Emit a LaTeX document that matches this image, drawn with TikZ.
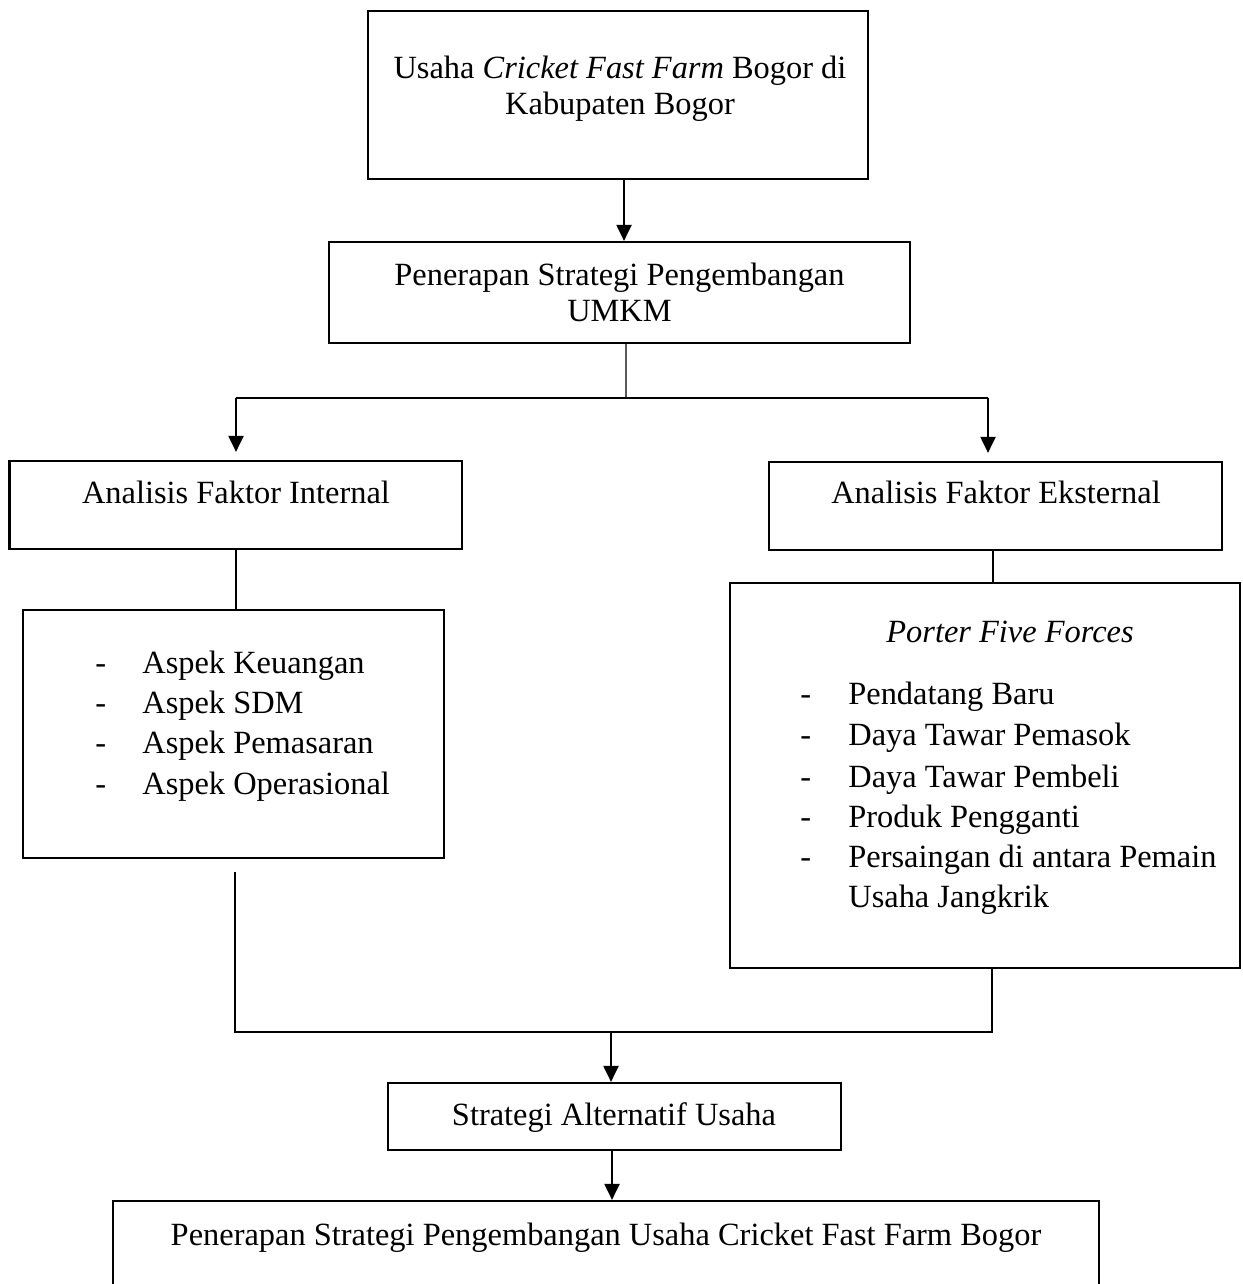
\documentclass[tikz,border=0pt]{standalone}
\usepackage{fontspec}
\setmainfont{Liberation Serif}
\usetikzlibrary{arrows.meta,fit,calc}
\begin{document}
\begin{tikzpicture}[x=0.02cm,y=-0.02cm,
  box/.style={draw, line width=1.25pt, inner sep=0pt, rectangle},
  txt/.style={anchor=base, inner sep=0pt, font=\fontsize{18.45}{22.8}\selectfont},
  ltxt/.style={txt, anchor=base west},
  thin/.style={line width=0.6pt},
  arr/.style={line width=1.2pt, -{Triangle[length=0.32cm,width=0.3cm]}}
]
\useasboundingbox (0,0) rectangle (1242,1284);
\clip (0,0) rectangle (1242,1284);

% boxes
\node[box, fit={(368,10.7) (868,179)}] (b1) {};
\node[box, fit={(329,242) (910,343)}] (b2) {};
\node[box, fit={(9.5,461) (462,549)}] (b3) {};
\node[box, fit={(769,462) (1222,550)}] (b4) {};
\node[box, fit={(22.7,610) (444,858)}] (b5) {};
\node[box, fit={(730,583) (1240,968)}] (b6) {};
\node[box, fit={(388,1083) (841,1150)}] (b7) {};
\node[box, fit={(113,1201) (1099,1320)}] (b8) {};

% texts
\node[txt] (t1a) at (620,79) {Usaha \textit{Cricket Fast Farm} Bogor di};
\node[txt] (t1b) at (620,115) {Kabupaten Bogor};
\node[txt] (t2a) at (619.5,285) {Penerapan Strategi Pengembangan};
\node[txt] (t2b) at (619.5,321) {UMKM};
\node[txt] (t3) at (236,503) {Analisis Faktor Internal};
\node[txt] (t4) at (996,503) {Analisis Faktor Eksternal};

\node[ltxt] (d5a) at (95,673) {-};
\node[ltxt] (d5b) at (95,713) {-};
\node[ltxt] (d5c) at (95,753) {-};
\node[ltxt] (d5d) at (95,794) {-};
\node[ltxt] (l5a) at (142,673) {Aspek Keuangan};
\node[ltxt] (l5b) at (142,713) {Aspek SDM};
\node[ltxt] (l5c) at (142,753) {Aspek Pemasaran};
\node[ltxt] (l5d) at (142,794) {Aspek Operasional};

\node[txt] (t6) at (1010,642) {\textit{Porter Five Forces}};
\node[ltxt] (d6a) at (800,704) {-};
\node[ltxt] (d6b) at (800,745) {-};
\node[ltxt] (d6c) at (800,787) {-};
\node[ltxt] (d6d) at (800,827) {-};
\node[ltxt] (d6e) at (800,867) {-};
\node[ltxt] (l6a) at (848,704) {Pendatang Baru};
\node[ltxt] (l6b) at (848,745) {Daya Tawar Pemasok};
\node[ltxt] (l6c) at (848,787) {Daya Tawar Pembeli};
\node[ltxt] (l6d) at (848,827) {Produk Pengganti};
\node[ltxt] (l6e) at (848,867) {Persaingan di antara Pemain};
\node[ltxt] (l6f) at (848,907) {Usaha Jangkrik};

\node[txt] (t7) at (614,1125) {Strategi Alternatif Usaha};
\node[txt] (t8) at (606,1245) {Penerapan Strategi Pengembangan Usaha Cricket Fast Farm Bogor};

% connectors
\coordinate (s1) at ($(b1.south)+(6,0)$);
\draw[arr] (s1) -- (s1 |- b2.north);

\coordinate (s2) at ($(b2.south)+(6.5,0)$);
\coordinate (j1) at (626,398);
\coordinate (jl) at (236,398);
\coordinate (jr) at (988,398);
\draw[thin] (s2) -- (j1);
\draw[thin] (jl) -- (jr);
\draw[arr] (jl) -- ($(jl |- b3.north)+(0,-8)$);
\draw[arr] (jr) -- ($(jr |- b4.north)+(0,-8)$);

\draw[thin] (b3.south -| jl) -- (b5.north -| jl);
\coordinate (c4) at (993,0);
\draw[thin] (b4.south -| c4) -- (b6.north -| c4);

\coordinate (fl) at (235,872);
\coordinate (br) at (992,1032);
\coordinate (bl) at (235,1032);
\draw[thin] (fl) -- (bl) -- (br) -- (b6.south -| br);
\coordinate (m1) at (611,1032);
\draw[arr] (m1) -- (m1 |- b7.north);
\coordinate (m2) at (612,0);
\draw[arr] (b7.south -| m2) -- (b8.north -| m2);
\end{tikzpicture}
\end{document}
